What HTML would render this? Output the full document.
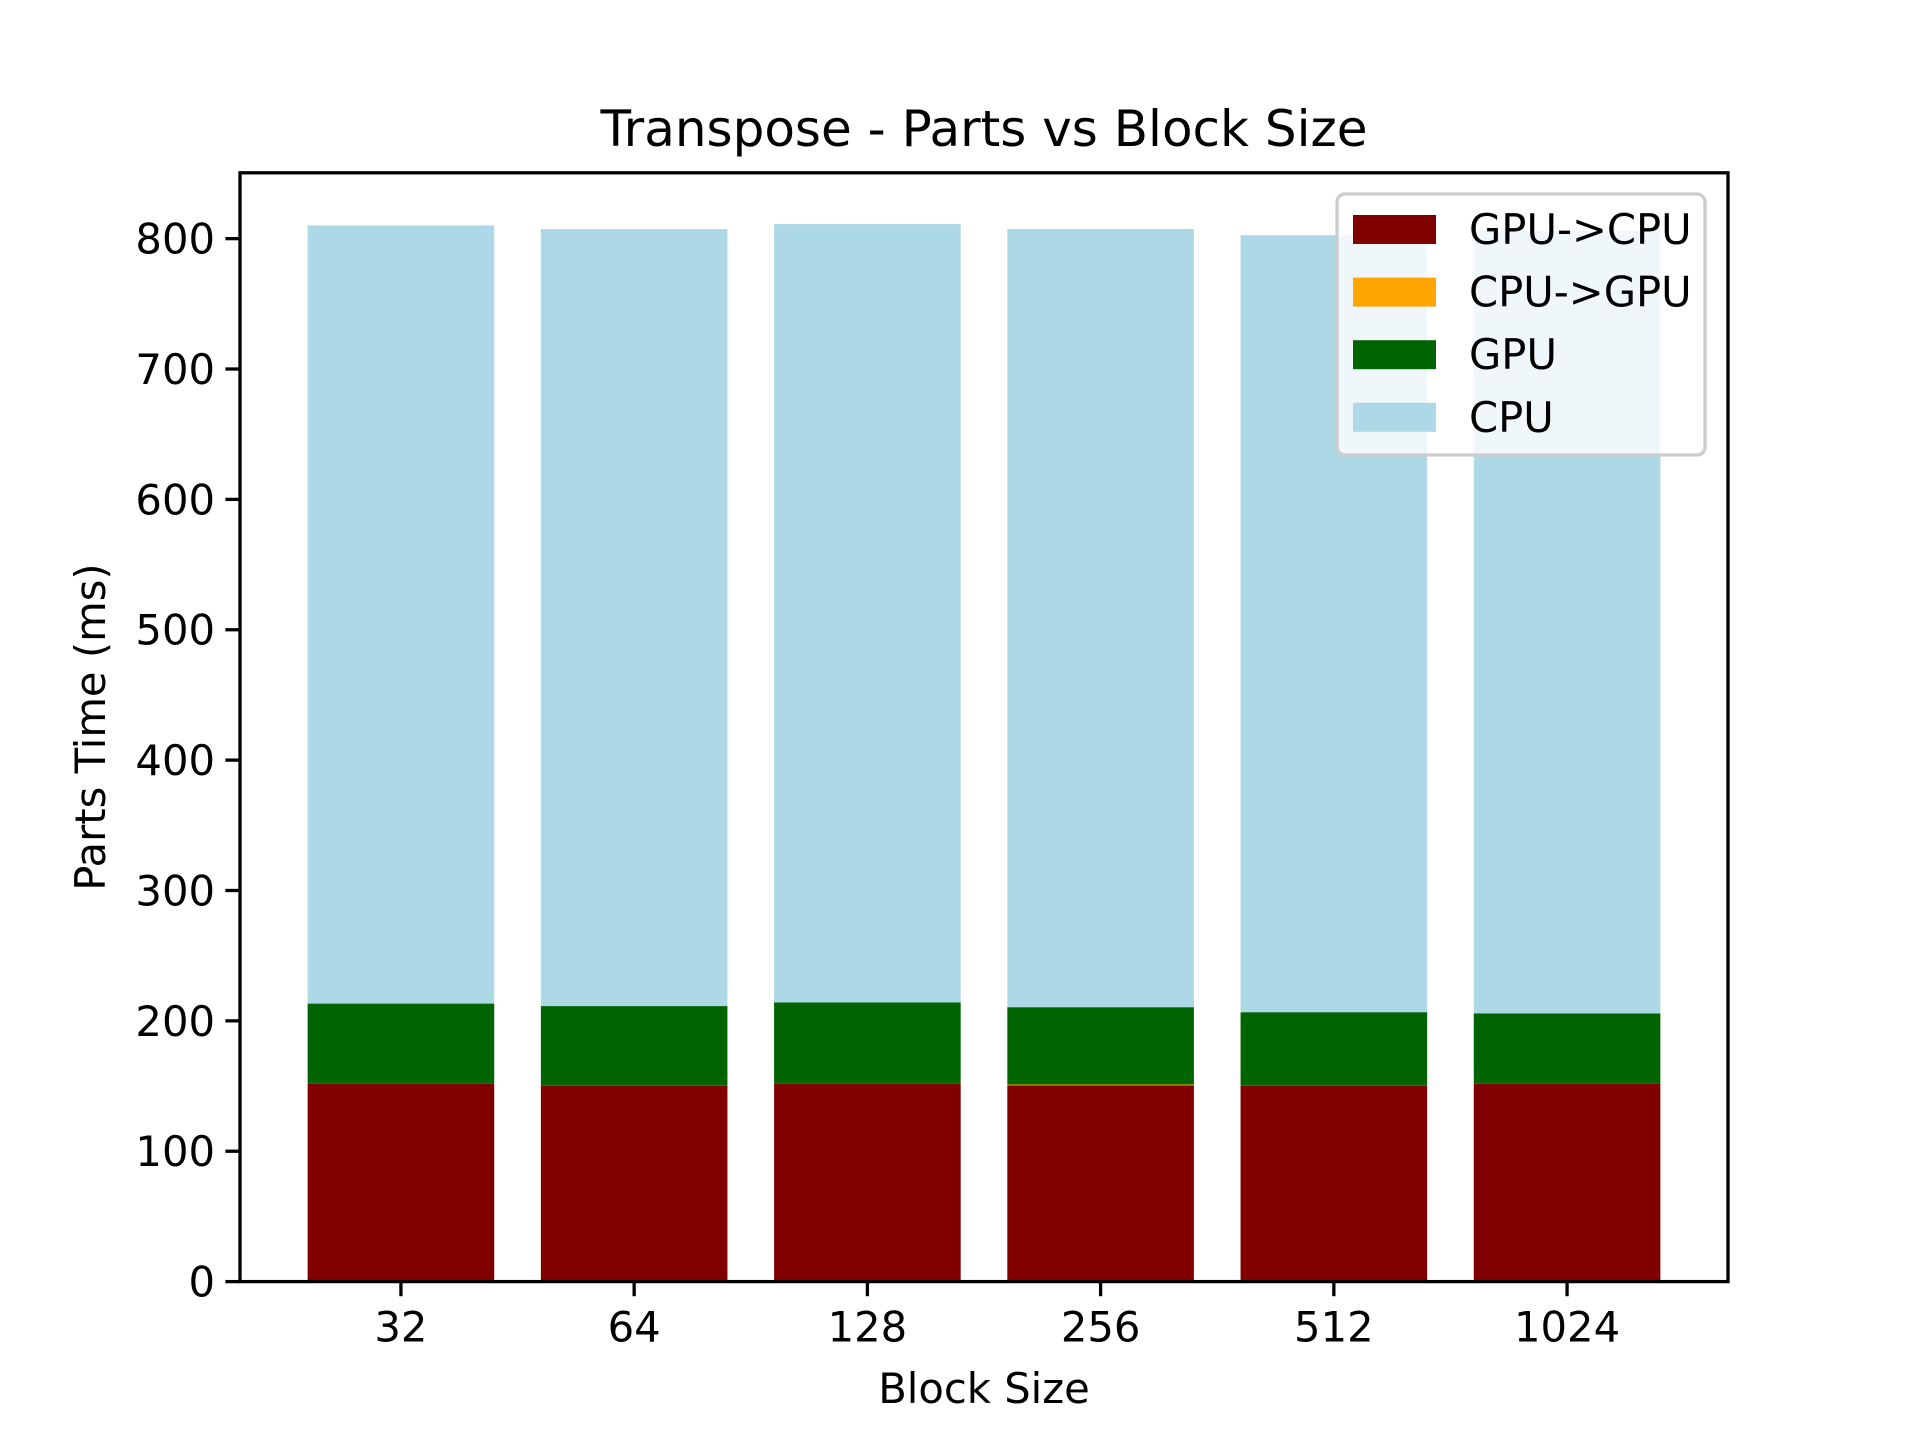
<!DOCTYPE html>
<html><head><meta charset="utf-8"><style>
html,body{margin:0;padding:0;background:#fff}
svg text{font-family:"DejaVu Sans","Liberation Sans",sans-serif;fill:#000}
</style></head><body>
<svg id="chart" width="1920" height="1440" viewBox="0 0 1920 1440" xmlns="http://www.w3.org/2000/svg">
<rect width="1920" height="1440" fill="#fff"/>
<text x="984" y="146" font-size="50" text-anchor="middle">Transpose - Parts vs Block Size</text>
<g id="bars"></g>
<g id="axes"></g>
<text x="984" y="1403" font-size="41.7" text-anchor="middle">Block Size</text>
<text x="0" y="0" font-size="41.7" text-anchor="middle" transform="translate(105,727) rotate(-90)">Parts Time (ms)</text>
<g id="legend"></g>
</svg>
<script>
const categories = ["32","64","128","256","512","1024"];
const gpuToCpu = [151.6, 150.1, 152.1, 150.6, 150.1, 152.1];
const cpuToGpu = [0.05, 0.05, 0.05, 0.6, 0.05, 0.05];
const gpuTime = [61.6, 61.2, 62.0, 59.3, 56.5, 53.6];
const cpuTime = [596.9, 596.0, 597.0, 596.9, 596.0, 600.0];
const yTicks = [0,100,200,300,400,500,600,700,800];

const L=240,R=1728,T=172.8,B=1281.6;
const xMin=-0.69,xMax=5.69,yMax=850.5;
const xs=v=>L+(v-xMin)/(xMax-xMin)*(R-L);
const ys=v=>B-v/yMax*(B-T);
const NS="http://www.w3.org/2000/svg";
function mk(tag,attrs,parent){const e=document.createElementNS(NS,tag);for(const k in attrs)e.setAttribute(k,attrs[k]);parent.appendChild(e);return e;}

const series=[
 {vals:gpuToCpu,color:"#800000",name:"GPU->CPU",key:"gpu-to-cpu"},
 {vals:cpuToGpu,color:"#ffa500",name:"CPU->GPU",key:"cpu-to-gpu"},
 {vals:gpuTime,color:"#006400",name:"GPU",key:"gpu"},
 {vals:cpuTime,color:"#add8e6",name:"CPU",key:"cpu"}
];
const bars=document.getElementById('bars');
const bw=0.8;
categories.forEach((c,i)=>{
  let base=0;
  series.forEach(s=>{
    const v=s.vals[i];
    const r=mk('rect',{x:xs(i-bw/2),width:xs(i+bw/2)-xs(i-bw/2),y:ys(base+v),height:ys(base)-ys(base+v),fill:s.color},bars);
    
    
    base+=v;
  });
});

const ax=document.getElementById('axes');
yTicks.forEach(t=>{
  const y=ys(t);
  const l=mk('line',{x1:L-14.6,x2:L,y1:y,y2:y,stroke:"#000","stroke-width":3.3},ax);
  
  
  const tx=mk('text',{x:L-25,y:y+15,"font-size":41.7,"text-anchor":"end"},ax);
  tx.textContent=t;
  
  
});
categories.forEach((c,i)=>{
  const x=xs(i);
  const l=mk('line',{x1:x,x2:x,y1:B,y2:B+14.6,stroke:"#000","stroke-width":3.3},ax);
  
  
  const tx=mk('text',{x:x,y:B+60,"font-size":41.7,"text-anchor":"middle"},ax);
  tx.textContent=c;
  
  
});
const frame=mk('rect',{x:L,y:T,width:R-L,height:B-T,fill:"none",stroke:"#000","stroke-width":3.3},ax);



const lg=document.getElementById('legend');
const box=mk('rect',{x:1337,y:194,width:368,height:261,rx:8,fill:"#fff","fill-opacity":0.8,stroke:"#ccc","stroke-width":3.3},lg);


series.forEach((s,k)=>{
  const cy=229+k*62.6;
  const p=mk('rect',{x:1353,y:cy-14,width:83,height:29,fill:s.color},lg);
  
  
  const t=mk('text',{x:1469,y:cy+15,"font-size":41.7},lg);
  t.textContent=s.name;
  
  
});
</script>
</body></html>
